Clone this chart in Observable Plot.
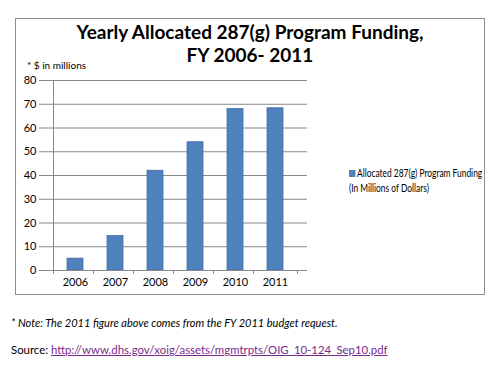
<!DOCTYPE html>
<html>
<head>
<meta charset="utf-8">
<script src="https://cdn.jsdelivr.net/npm/d3@7"></script>
<script src="https://cdn.jsdelivr.net/npm/@observablehq/plot@0.6"></script>
<style>
  html, body { margin: 0; padding: 0; background: #fff; }
  body { width: 500px; height: 370px; position: relative; overflow: hidden; font-family: Lato, "Open Sans", sans-serif; }
  #frame { position: absolute; left: 15px; top: 18px; width: 470px; height: 277px; border: 1px solid #8c8c8c; box-sizing: border-box; }
  #title { position: absolute; left: 15px; width: 470px; top: 20px; text-align: center; font-weight: bold; font-size: 19px; line-height: 23px; color: #000; }
  #unit { position: absolute; left: 27px; top: 59px; font-size: 10px; color: #000; }
  #chart { position: absolute; left: 0; top: 60px; }
  #legend { position: absolute; left: 349px; top: 166px; font-size: 10.5px; line-height: 15px; color: #000; white-space: nowrap; transform: scaleX(0.8); transform-origin: 0 0; }
  #legend .sw { display: inline-block; width: 8px; height: 7px; background: #4f81bd; margin-right: 2px; vertical-align: 0px; }
  #note { position: absolute; left: 11px; top: 316px; font-size: 11px; font-style: italic; color: #000; }
  #source { position: absolute; left: 11px; top: 343px; font-size: 11.4px; color: #000; }
  #source a { color: #7a2a8c; text-decoration: underline; }
</style>
</head>
<body>
<div id="frame"></div>
<div id="title">Yearly Allocated 287(g) Program Funding,<br>FY 2006- 2011</div>
<div id="unit">* $ in millions</div>
<div id="chart"></div>
<div id="legend"><span class="sw"></span>Allocated 287(g) Program Funding<br>(In Millions of Dollars)</div>
<div id="note">* Note: The 2011 figure above comes from the FY 2011 budget request.</div>
<div id="source">Source: <a>http://www.dhs.gov/xoig/assets/mgmtrpts/OIG_10-124_Sep10.pdf</a></div>
<script>
const years = ["2006", "2007", "2008", "2009", "2010", "2011"];
const funding = [5, 14.5, 42, 54, 68, 68.3];
const yTicks = [0, 10, 20, 30, 40, 50, 60, 70, 80];

const data = years.map((y, i) => ({year: y, value: funding[i]}));

const W = 320, H = 240, mL = 43, mR = 13, mT = 20, mB = 30;
const band = (W - mL - mR) / years.length;

const chart = Plot.plot({
  width: W,
  height: H,
  marginLeft: mL,
  marginRight: mR,
  marginTop: mT,
  marginBottom: mB,
  style: {fontFamily: "Lato, 'Open Sans', sans-serif", fontSize: "11px", color: "#000", background: "transparent"},
  x: {domain: years, padding: 0.6, align: 0.5, label: null},
  y: {domain: [0, 80], label: null},
  marks: [
    Plot.gridY(yTicks, {stroke: "#888", strokeOpacity: 1, strokeWidth: 1}),
    Plot.barY(data, {x: "year", y: "value", fill: "#4f81bd", stroke: "#3d6ea8", strokeWidth: 0.8}),
    Plot.axisY(yTicks, {tickSize: 4, tickPadding: 3, stroke: "#888", fontSize: 11}),
    Plot.ruleX([years[0]], {x: d => d, dx: -band / 2, stroke: "#888"}),
    Plot.ruleY([0], {stroke: "#888"}),
    Plot.ruleX(years, {x: d => d, dx: -band / 2, y1: 0, y2: 0, stroke: "#888", insetBottom: -4}),
    Plot.ruleX(years.slice(-1), {x: d => d, dx: band / 2, y1: 0, y2: 0, stroke: "#888", insetBottom: -4}),
    Plot.axisX({tickSize: 0, tickPadding: 8, fontSize: 11})
  ]
});
document.getElementById("chart").appendChild(chart);
</script>
</body>
</html>
